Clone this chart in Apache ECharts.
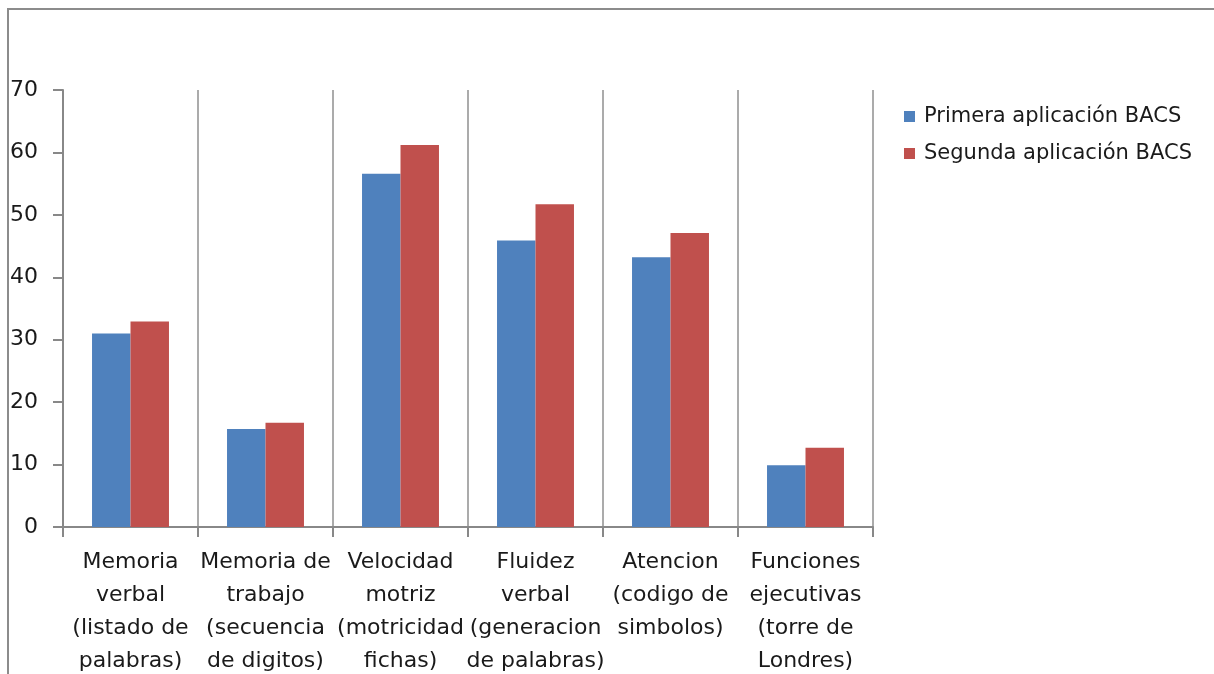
<!DOCTYPE html>
<html>
<head>
<meta charset="utf-8">
<script src="https://cdn.jsdelivr.net/npm/echarts@6/dist/echarts.min.js"></script>
<style>
  html, body { margin: 0; padding: 0; background: #fff; }
  #chart { width: 1214px; height: 674px; }
</style>
</head>
<body>
<div id="chart"></div>
<script>
// Cognitive domains assessed with the BACS battery
const categories = [
  'Memoria\nverbal\n(listado de\npalabras)',
  'Memoria de\ntrabajo\n(secuencia\nde digitos)',
  'Velocidad\nmotriz\n(motricidad\nfichas)',
  'Fluidez\nverbal\n(generacion\nde palabras)',
  'Atencion\n(codigo de\nsimbolos)',
  'Funciones\nejecutivas\n(torre de\nLondres)'
];
const seriesNames = ['Primera aplicación BACS', 'Segunda aplicación BACS'];
const primera = [31, 15.7, 56.6, 45.9, 43.2, 9.9];
const segunda = [32.9, 16.7, 61.2, 51.7, 47.1, 12.7];
const yTicks = { min: 0, max: 70, interval: 10 };

const font = 'DejaVu Sans';
const textColor = '#1a1a1a';
const axisGray = '#888888';
const gridGray = '#ababab';

const chart = echarts.init(document.getElementById('chart'));
chart.setOption({
  animation: false,
  backgroundColor: '#ffffff',
  textStyle: { fontFamily: font },
  graphic: [{
    type: 'rect',
    shape: { x: 8, y: 9, width: 1300, height: 800 },
    style: { fill: 'none', stroke: '#8c8c8c', lineWidth: 2 },
    silent: true
  }],
  legend: {
    orient: 'vertical',
    left: 899,
    top: 100,
    itemWidth: 11,
    itemHeight: 11,
    itemGap: 14,
    icon: 'rect',
    textStyle: {
      fontFamily: font,
      fontSize: 21,
      lineHeight: 23,
      color: textColor,
      padding: [0, 0, 0, 4]
    },
    data: seriesNames
  },
  grid: {
    left: 63, right: 341, top: 90, bottom: 147,
    containLabel: false,
    outerBoundsMode: 'none'
  },
  xAxis: {
    type: 'category',
    data: categories,
    axisLine: { show: true, lineStyle: { color: axisGray, width: 2 } },
    axisTick: { show: true, length: 10, lineStyle: { color: axisGray, width: 2 } },
    splitLine: { show: true, lineStyle: { color: gridGray, width: 2 } },
    axisLabel: {
      interval: 0,
      margin: 19,
      fontFamily: font,
      fontSize: 22,
      lineHeight: 33,
      color: textColor
    }
  },
  yAxis: {
    type: 'value',
    min: yTicks.min,
    max: yTicks.max,
    interval: yTicks.interval,
    axisLine: { show: true, lineStyle: { color: axisGray, width: 2 } },
    axisTick: { show: true, length: 10, lineStyle: { color: axisGray, width: 2 } },
    splitLine: { show: false },
    axisLabel: {
      margin: 25,
      fontFamily: font,
      fontSize: 22,
      color: textColor
    }
  },
  series: [
    {
      name: seriesNames[0],
      type: 'bar',
      data: primera,
      barGap: '0%',
      barCategoryGap: '43%',
      itemStyle: { color: '#4f81bd' }
    },
    {
      name: seriesNames[1],
      type: 'bar',
      data: segunda,
      barGap: '0%',
      barCategoryGap: '43%',
      itemStyle: { color: '#c0504d' }
    }
  ]
});
</script>
</body>
</html>
